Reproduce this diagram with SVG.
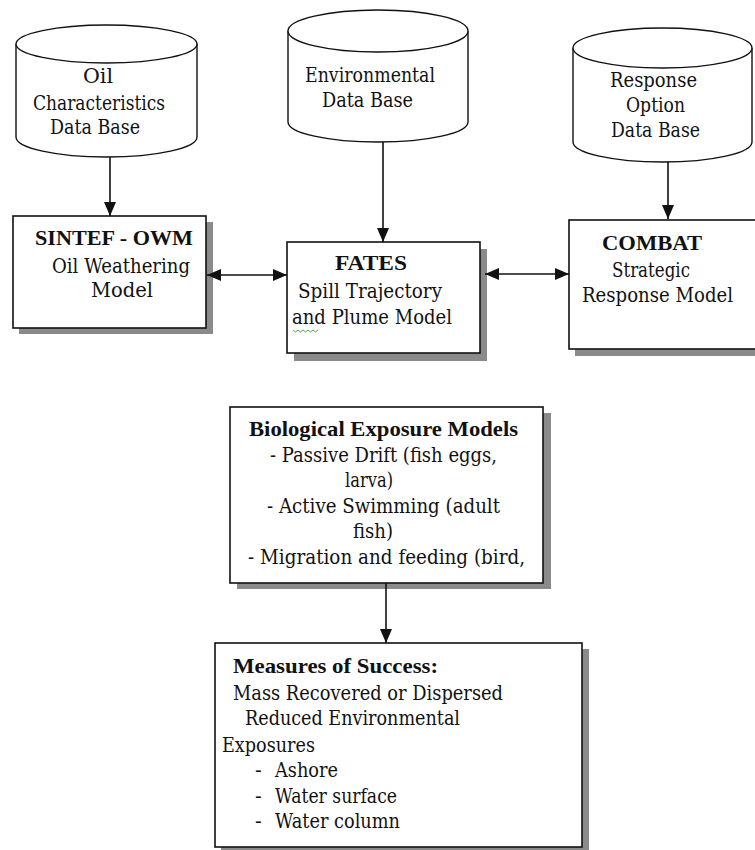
<svg xmlns="http://www.w3.org/2000/svg" width="755" height="850" viewBox="0 0 755 850">
<style>
text{font-family:"DejaVu Serif",serif;font-size:20px;fill:#111}
text.b{font-family:"Liberation Serif","Times New Roman",serif;font-size:22px;font-weight:bold}
.box{fill:#fff;stroke:#111;stroke-width:1.6}
.sh{fill:#8a8a8a}
.cyl{fill:#fff;stroke:#111;stroke-width:1.4}
.con{stroke:#111;stroke-width:1.6;fill:none}
</style>
<defs>
<marker id="ah" markerUnits="userSpaceOnUse" markerWidth="14" markerHeight="12" refX="14" refY="6" orient="auto-start-reverse">
<path d="M0,0 L14,6 L0,12 Z" fill="#111"/>
</marker>
</defs>
<rect width="755" height="850" fill="#fff"/>

<g id="db-oil">
<path class="cyl" d="M16,44 V137 A90.5,20 0 0 0 197,137 V44"/>
<ellipse class="cyl" cx="106.5" cy="44" rx="90.5" ry="19"/>
<text x="83" y="83" textLength="30" lengthAdjust="spacingAndGlyphs">Oil</text>
<text x="33" y="110" textLength="132" lengthAdjust="spacingAndGlyphs">Characteristics</text>
<text x="50" y="134" textLength="90" lengthAdjust="spacingAndGlyphs">Data Base</text>
</g>

<g id="db-env">
<path class="cyl" d="M288,31 V122 A90,20 0 0 0 468,122 V31"/>
<ellipse class="cyl" cx="378" cy="31" rx="90" ry="21"/>
<text x="305" y="82" textLength="130" lengthAdjust="spacingAndGlyphs">Environmental</text>
<text x="322" y="107" textLength="91" lengthAdjust="spacingAndGlyphs">Data Base</text>
</g>

<g id="db-resp">
<path class="cyl" d="M573,48 V142 A89.5,20 0 0 0 752,142 V48"/>
<ellipse class="cyl" cx="662.5" cy="48" rx="89.5" ry="20"/>
<text x="610" y="87" textLength="87" lengthAdjust="spacingAndGlyphs">Response</text>
<text x="626" y="112" textLength="59" lengthAdjust="spacingAndGlyphs">Option</text>
<text x="611" y="137" textLength="89" lengthAdjust="spacingAndGlyphs">Data Base</text>
</g>

<g id="sintef">
<rect class="sh" x="19" y="222" width="194" height="112"/>
<rect class="box" x="13" y="216" width="193" height="112"/>
<text class="b" x="35" y="245" textLength="158" lengthAdjust="spacingAndGlyphs">SINTEF - OWM</text>
<text x="52" y="273" textLength="138" lengthAdjust="spacingAndGlyphs">Oil Weathering</text>
<text x="91" y="297" textLength="62" lengthAdjust="spacingAndGlyphs">Model</text>
</g>

<g id="fates">
<rect class="sh" x="294" y="249" width="193" height="112"/>
<rect class="box" x="287" y="242" width="193" height="111"/>
<text class="b" x="335" y="270" textLength="72" lengthAdjust="spacingAndGlyphs">FATES</text>
<text x="298" y="298" textLength="144" lengthAdjust="spacingAndGlyphs">Spill Trajectory</text>
<text x="292" y="324" textLength="160" lengthAdjust="spacingAndGlyphs">and Plume Model</text>
<path d="M293,330 l2.5,2 l2.5,-2 l2.5,2 l2.5,-2 l2.5,2 l2.5,-2 l2.5,2 l2.5,-2 l2.5,2 l2.5,-2" fill="none" stroke="#4a4" stroke-width="1"/>
</g>

<g id="combat">
<rect class="sh" x="575" y="226" width="190" height="130"/>
<rect class="box" x="569" y="220" width="195" height="129"/>
<text class="b" x="602" y="250" textLength="100" lengthAdjust="spacingAndGlyphs">COMBAT</text>
<text x="612" y="277" textLength="78" lengthAdjust="spacingAndGlyphs">Strategic</text>
<text x="582" y="302" textLength="151" lengthAdjust="spacingAndGlyphs">Response Model</text>
</g>

<g id="bio">
<rect class="sh" x="237" y="413" width="314" height="176"/>
<rect class="box" x="230" y="407" width="313" height="176"/>
<text class="b" x="249" y="436" textLength="269" lengthAdjust="spacingAndGlyphs">Biological Exposure Models</text>
<text x="270" y="462" textLength="227" lengthAdjust="spacingAndGlyphs">- Passive Drift (fish eggs,</text>
<text x="345" y="487" textLength="48" lengthAdjust="spacingAndGlyphs">larva)</text>
<text x="267" y="513" textLength="233" lengthAdjust="spacingAndGlyphs">- Active Swimming (adult</text>
<text x="353" y="538" textLength="40" lengthAdjust="spacingAndGlyphs">fish)</text>
<text x="248" y="564" textLength="277" lengthAdjust="spacingAndGlyphs">- Migration and feeding (bird,</text>
</g>

<g id="measures">
<rect class="sh" x="221" y="649" width="368" height="210"/>
<rect class="box" x="215" y="643" width="367" height="204"/>
<text class="b" x="233" y="673" textLength="205" lengthAdjust="spacingAndGlyphs">Measures of Success:</text>
<text x="233" y="700" textLength="270" lengthAdjust="spacingAndGlyphs">Mass Recovered or Dispersed</text>
<text x="245" y="725" textLength="215" lengthAdjust="spacingAndGlyphs">Reduced Environmental</text>
<text x="222" y="752" textLength="93" lengthAdjust="spacingAndGlyphs">Exposures</text>
<text x="255" y="777">-</text><text x="275" y="777" textLength="63" lengthAdjust="spacingAndGlyphs">Ashore</text>
<text x="255" y="803">-</text><text x="275" y="803" textLength="122" lengthAdjust="spacingAndGlyphs">Water surface</text>
<text x="255" y="828">-</text><text x="275" y="828" textLength="125" lengthAdjust="spacingAndGlyphs">Water column</text>
</g>

<g id="connectors">
<line class="con" x1="110" y1="157" x2="110" y2="216" marker-end="url(#ah)"/>
<line class="con" x1="383" y1="142" x2="383" y2="242" marker-end="url(#ah)"/>
<line class="con" x1="668" y1="162" x2="668" y2="219" marker-end="url(#ah)"/>
<line class="con" x1="207" y1="275" x2="287" y2="275" marker-start="url(#ah)" marker-end="url(#ah)"/>
<line class="con" x1="485" y1="274" x2="569" y2="274" marker-start="url(#ah)" marker-end="url(#ah)"/>
<line class="con" x1="386" y1="583" x2="386" y2="643" marker-end="url(#ah)"/>
</g>
</svg>
